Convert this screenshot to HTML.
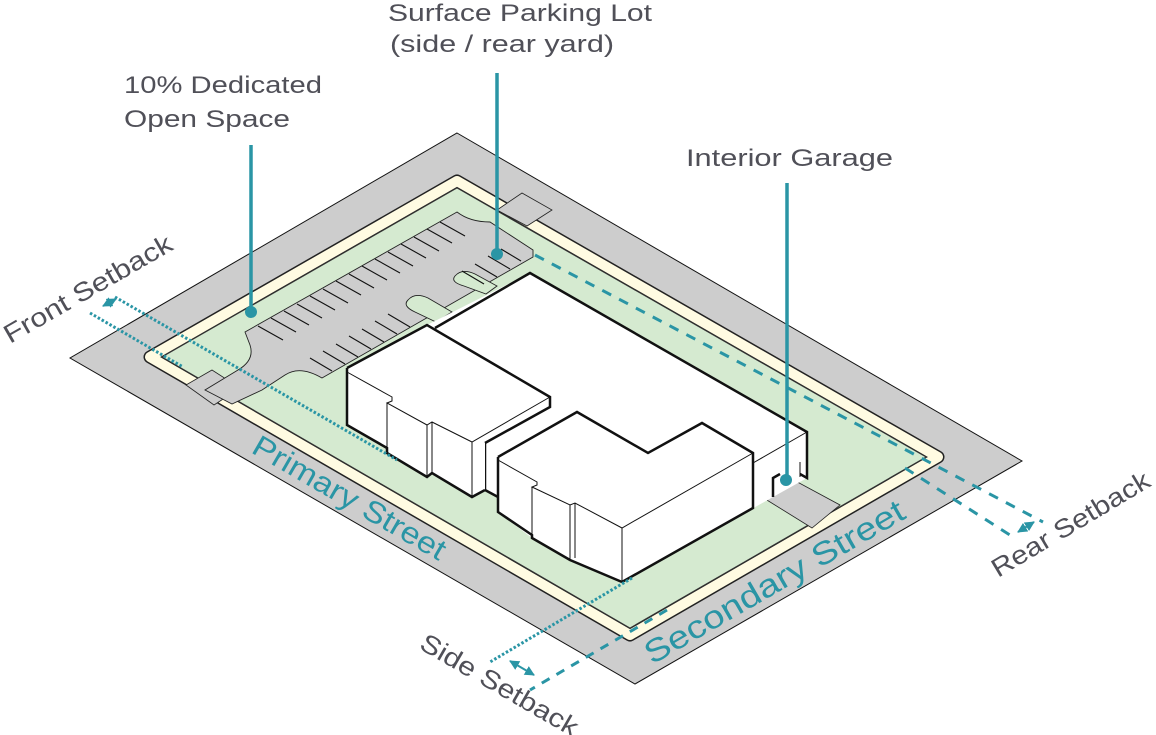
<!DOCTYPE html>
<html><head><meta charset="utf-8"><style>
html,body{margin:0;padding:0;background:#fff;}
svg{display:block;}
text{font-family:"Liberation Sans",sans-serif;}
</style></head><body>
<svg width="1156" height="735" viewBox="0 0 1156 735" xmlns="http://www.w3.org/2000/svg">
<defs>
<marker id="ah" viewBox="0 0 10 10" refX="9" refY="5" markerWidth="5" markerHeight="5" orient="auto-start-reverse"><path d="M0,0 L10,5 L0,10 Z" fill="#2a95a5"/></marker>
</defs>
<!-- outer gray parcel -->
<polygon points="457,133 1022,461 635,684 70,358" fill="#cdcdcd" stroke="#111" stroke-width="1"/>
<!-- lot with band -->
<polygon points="457,181 938,457 630,635 150,357" fill="#d5ead0" stroke="#222" stroke-width="13" stroke-linejoin="round"/>
<polygon points="457,181 938,457 630,635 150,357" fill="none" stroke="#fffbe2" stroke-width="10" stroke-linejoin="round"/>
<polygon points="457,188 926,457 630,628 162,357" fill="#d5ead0" stroke="#333" stroke-width="1"/>
<!-- driveways -->
<polygon points="497,210 522,193 552,210 527,226" fill="#cdcdcd" stroke="#222" stroke-width="0.8"/>
<polygon points="186,385 212,370 240,388 214,405" fill="#cdcdcd" stroke="#222" stroke-width="0.8"/>
<polygon points="762,478 790,478 840,505 812,528 762,497" fill="#cdcdcd" stroke="#222" stroke-width="0.8"/>
<!-- parking -->
<path d="M245,332 L457,212 Q470,222 490,222 L533,250 L533,257 L322,378 Q300,365 285,375 L262,390 L232,404 L205,390 L238,370 Q255,360 250,345 Z" fill="#cdcdcd" stroke="#222" stroke-width="0.9"/>
<!-- islands -->
<path d="M408,300 Q415,292 428,298 L452,312 L436,322 L415,312 Q402,306 408,300 Z" fill="#d5ead0" stroke="#222" stroke-width="0.9"/>
<path d="M455,276 Q462,268 475,274 L497,286 L486,294 L464,286 Q450,282 455,276 Z" fill="#d5ead0" stroke="#222" stroke-width="0.9"/>
<g stroke="#111" stroke-width="1.1">
<line x1="258" y1="326" x2="283" y2="340"/><line x1="271" y1="318" x2="296" y2="332"/><line x1="284" y1="311" x2="309" y2="325"/><line x1="297" y1="304" x2="322" y2="318"/><line x1="310" y1="296" x2="335" y2="310"/><line x1="323" y1="289" x2="348" y2="303"/><line x1="336" y1="281" x2="361" y2="295"/><line x1="349" y1="274" x2="374" y2="288"/><line x1="362" y1="266" x2="387" y2="280"/><line x1="375" y1="259" x2="400" y2="273"/><line x1="388" y1="252" x2="413" y2="266"/><line x1="401" y1="244" x2="426" y2="258"/><line x1="414" y1="237" x2="439" y2="251"/><line x1="427" y1="229" x2="452" y2="243"/><line x1="440" y1="222" x2="465" y2="236"/>
<line x1="310" y1="358" x2="332" y2="371"/><line x1="323" y1="351" x2="345" y2="364"/><line x1="336" y1="344" x2="358" y2="357"/><line x1="349" y1="336" x2="371" y2="349"/><line x1="362" y1="329" x2="384" y2="342"/><line x1="375" y1="321" x2="397" y2="334"/><line x1="388" y1="314" x2="410" y2="327"/><line x1="462" y1="271" x2="484" y2="284"/><line x1="475" y1="264" x2="497" y2="277"/><line x1="488" y1="256" x2="510" y2="269"/><line x1="501" y1="249" x2="521" y2="261"/>
</g>
<!-- back building -->
<polygon points="427,325 530,273 807,432 807,478 773,497 622,582 485,490" fill="#fff"/>
<polyline points="435,328 530,273 807,432 807,478 800,474" fill="none" stroke="#111" stroke-width="2.5"/>
<polyline points="753,463 807,432" fill="none" stroke="#111" stroke-width="1"/>
<polyline points="800,462 800,477" fill="none" stroke="#111" stroke-width="1"/>
<polyline points="773,497 773,478 780,474" fill="none" stroke="#111" stroke-width="2.5"/>
<polyline points="485,443 485,490 498,497" fill="none" stroke="#111" stroke-width="2.5"/>
<!-- building 1 -->
<polygon points="347,368 427,325 550,397 550,407 485,443 485,490 472,497 432,473 427,477 387,453 387,448 347,425" fill="#fff" stroke="none"/>
<polyline points="347,368 427,325 550,397 550,407 485,443" fill="none" stroke="#111" stroke-width="2.5"/>
<polyline points="347,368 347,425 387,448 387,453 427,477 432,473 472,497 485,490" fill="none" stroke="#111" stroke-width="2.5"/>
<polyline points="347,372 392,397 392,401 387,403 427,425 432,422 472,442 550,397" fill="none" stroke="#111" stroke-width="1"/>
<line x1="387" y1="403" x2="387" y2="448" stroke="#111" stroke-width="1"/>
<line x1="427" y1="425" x2="427" y2="477" stroke="#111" stroke-width="1"/>
<line x1="432" y1="422" x2="432" y2="473" stroke="#111" stroke-width="1"/>
<line x1="472" y1="442" x2="472" y2="497" stroke="#111" stroke-width="1"/>
<!-- building 2 -->
<polygon points="498,457 577,412 648,453 702,423 753,453 753,508 622,582 570,560 532,538 498,512" fill="#fff"/>
<polyline points="498,457 577,412 648,453 702,423 753,453 753,508 622,582 570,560 532,538 532,535 498,512 498,457" fill="none" stroke="#111" stroke-width="2.5"/>
<polyline points="498,460 537,482 537,485 532,487 570,505 575,503 622,528 753,453" fill="none" stroke="#111" stroke-width="1"/>
<line x1="532" y1="487" x2="532" y2="538" stroke="#111" stroke-width="1"/>
<line x1="570" y1="505" x2="570" y2="560" stroke="#111" stroke-width="1"/>
<line x1="575" y1="503" x2="575" y2="558" stroke="#111" stroke-width="1"/>
<line x1="622" y1="528" x2="622" y2="582" stroke="#111" stroke-width="1"/>
<!-- setback lines -->
<g stroke="#2a95a5" fill="none">
<line x1="115" y1="297" x2="397" y2="460" stroke-width="3" stroke-dasharray="2.5 2"/>
<line x1="90" y1="313" x2="183" y2="367" stroke-width="3" stroke-dasharray="2.5 2"/>
<line x1="632" y1="578" x2="490" y2="662" stroke-width="3" stroke-dasharray="2.5 2"/>
<line x1="667" y1="610" x2="530" y2="690" stroke-width="3" stroke-dasharray="9 8"/>
<line x1="535" y1="255" x2="1043" y2="522" stroke-width="3" stroke-dasharray="10 9"/>
<line x1="905" y1="468" x2="1013" y2="537" stroke-width="3" stroke-dasharray="10 9"/>
<line x1="103" y1="306" x2="116" y2="299" stroke-width="2" marker-start="url(#ah)" marker-end="url(#ah)"/>
<line x1="510" y1="661" x2="534" y2="675" stroke-width="2" marker-start="url(#ah)" marker-end="url(#ah)"/>
<line x1="1018" y1="532" x2="1034" y2="522" stroke-width="2" marker-start="url(#ah)" marker-end="url(#ah)"/>
</g>
<!-- leaders -->
<g stroke="#2a95a5" stroke-width="3.5">
<line x1="251" y1="145" x2="251" y2="312"/>
<line x1="497" y1="73" x2="497" y2="254"/>
<line x1="787" y1="183" x2="787" y2="480"/>
</g>
<g fill="#2a95a5"><circle cx="251" cy="312" r="6"/><circle cx="497" cy="254" r="6"/><circle cx="786" cy="480" r="6"/></g>
<!-- labels -->
<g fill="#505058" font-size="24">
<text x="388" y="21" textLength="264" lengthAdjust="spacingAndGlyphs">Surface Parking Lot</text>
<text x="390" y="52" textLength="224" lengthAdjust="spacingAndGlyphs">(side / rear yard)</text>
<text x="124" y="93" textLength="198" lengthAdjust="spacingAndGlyphs">10% Dedicated</text>
<text x="124" y="127" textLength="166" lengthAdjust="spacingAndGlyphs">Open Space</text>
<text x="686" y="166" textLength="207" lengthAdjust="spacingAndGlyphs">Interior Garage</text>
<text transform="translate(10,344) rotate(-30)" font-size="26" textLength="190" lengthAdjust="spacingAndGlyphs">Front Setback</text>
<text transform="translate(998,578) rotate(-31)" font-size="26" textLength="180" lengthAdjust="spacingAndGlyphs">Rear Setback</text>
<text transform="translate(418,648) rotate(30)" font-size="26" textLength="178" lengthAdjust="spacingAndGlyphs">Side Setback</text>
</g>
<g fill="#2a95a5">
<text transform="translate(250,452) rotate(30)" font-size="30" textLength="218" lengthAdjust="spacingAndGlyphs">Primary Street</text>
<text transform="translate(652,665) rotate(-30)" font-size="32" textLength="295" lengthAdjust="spacingAndGlyphs">Secondary Street</text>
</g>
</svg>
</body></html>
